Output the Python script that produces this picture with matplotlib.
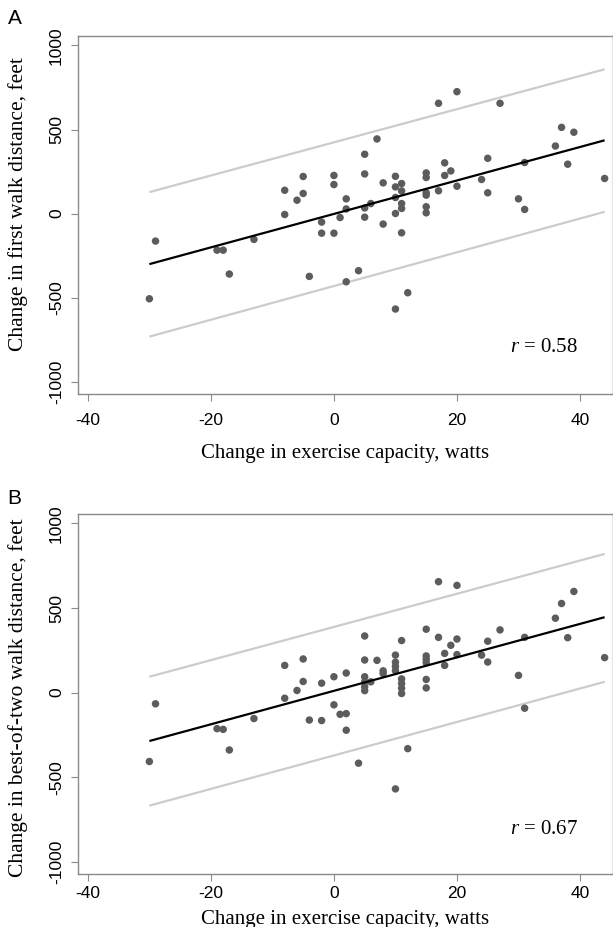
import matplotlib
matplotlib.use("Agg")
import matplotlib.pyplot as plt

plt.rcParams['axes.unicode_minus'] = False
plt.rcParams['mathtext.fontset'] = 'custom'
plt.rcParams['mathtext.it'] = 'Liberation Serif:italic'
plt.rcParams['mathtext.rm'] = 'Liberation Serif'

# ---------------- data ----------------
xA = [-30, -29, -19, -18, -17, -13,
      -8, -8, -6, -5, -5, -4, -2, -2,
      0, 0, 0, 1, 2, 2, 2,
      4,
      5, 5, 5, 5,
      6, 7, 8, 8,
      10, 10, 10, 10, 10,
      11, 11, 11, 11, 11,
      12,
      15, 15, 15, 15, 15, 15,
      17, 17,
      18, 18,
      19,
      20, 20,
      24, 25, 25, 27,
      30, 31, 31,
      36, 37, 38, 39, 44]
yA = [-506, -163, -217, -217, -359, -153,
      139, -5, 80, 221, 120, -373, -50, -116,
      227, 173, -116, -23, 88, 28, -405,
      -339,
      353, 236, 34, -21,
      60, 444, 183, -62,
      222, 159, 96, 1, -567,
      179, 135, 60, 31, -114,
      -470,
      242, 215, 124, 110, 41, 5,
      656, 136,
      302, 227,
      254,
      725, 163,
      203, 329, 124, 656,
      88, 304, 25,
      402, 513, 294, 484, 209]

xB = [-30, -29, -19, -18, -17, -13,
      -8, -8, -6, -5, -5, -4, -2, -2,
      0, 0, 1, 2, 2, 2,
      4,
      5, 5, 5, 5, 5, 5,
      6, 7, 8, 8,
      10, 10, 10, 10, 10,
      11, 11, 11, 11, 11,
      12,
      15, 15, 15, 15, 15, 15,
      17, 17,
      18, 18,
      19,
      20, 20, 20,
      24, 25, 25, 27,
      30, 31, 31,
      36, 37, 38, 39, 44]
yB = [-407, -66, -213, -217, -339, -153,
      161, -33, 13, 199, 66, -162, 56, -165,
      94, -72, -128, -124, 116, -222,
      -417,
      335, 193, 94, 64, 35, 12,
      64, 191, 129, 113,
      222, 180, 155, 130, -569,
      308, 81, 54, 26, -5,
      -331,
      375, 217, 197, 177, 78, 28,
      656, 327,
      232, 161,
      280,
      634, 317, 225,
      222, 304, 181, 371,
      102, 327, -92,
      440, 527, 325, 598, 207]

# fitted line and prediction band endpoints
fit_x = [-30, 44]
fitA = [-300, 436]
upA = [128, 858]
loA = [-731, 11]
fitB = [-286, 446]
upB = [94, 820]
loB = [-668, 64]

r_A = "0.58"
r_B = "0.67"

xticks = [-40, -20, 0, 20, 40]
yticks = [-1000, -500, 0, 500, 1000]

ylabelA = "Change in first walk distance, feet"
ylabelB = "Change in best-of-two walk distance, feet"
xlabel = "Change in exercise capacity, watts"

# ---------------- figure ----------------
W, H = 613, 927
fig = plt.figure(figsize=(W / 100, H / 100), dpi=100)

def px_axes(left, top, right, bottom):
    return fig.add_axes([left / W, 1 - bottom / H, (right - left) / W, (bottom - top) / H])

axA = px_axes(78, 36, 612, 394)
axB = px_axes(78, 514, 612, 874)

serif = 'Liberation Serif'
sans = 'Liberation Sans'
dot_col = '#5c5c5c'
band_col = '#cccccc'
spine_col = '#8a8a8a'

panels = [
    (axA, xA, yA, fitA, upA, loA, r_A, ylabelA, -798, 9, 11, 0.53),
    (axB, xB, yB, fitB, upB, loB, r_B, ylabelB, -810, 4, 6, 0.49),
]

for ax, xs, ys, fit, up, lo, rv, ylab, ry, xpad, xlpad, ylab_y in panels:
    ax.plot(fit_x, up, color=band_col, lw=1.6, zorder=1, solid_capstyle='butt')
    ax.plot(fit_x, lo, color=band_col, lw=1.6, zorder=1, solid_capstyle='butt')
    ax.scatter(xs, ys, s=29, color=dot_col, edgecolors='none', zorder=2)
    ax.plot(fit_x, fit, color='black', lw=1.6, zorder=3, solid_capstyle='butt')

    ax.set_xlim(-41.6, 45.2)
    ax.set_ylim(-1072, 1056)
    ax.set_xticks(xticks)
    ax.set_yticks(yticks)
    ax.set_xticklabels([str(t) for t in xticks], fontfamily=sans, fontsize=12.5)
    ax.set_yticklabels([str(t) for t in yticks], fontfamily=sans, fontsize=12.5,
                       rotation=90, va='center')
    ax.tick_params(axis='both', direction='out', length=5, width=0.8,
                   color=spine_col)
    ax.tick_params(axis='x', pad=xpad)
    ax.tick_params(axis='y', pad=5)
    for sp in ax.spines.values():
        sp.set_color(spine_col)
        sp.set_linewidth(1.0)
    ax.spines['right'].set_color('#e6e6e6')

    ax.set_xlabel(xlabel, fontfamily=serif, fontsize=15, labelpad=xlpad)
    ax.set_ylabel(ylab, fontfamily=serif, fontsize=15.5)
    ax.yaxis.set_label_coords(-0.093, ylab_y)

    ax.text(34.1, ry, r"$r$ = " + rv, fontfamily=serif, fontsize=15,
            ha='center', va='center')

fig.text(15 / W, 1 - 18 / H, "A", fontfamily=sans, fontsize=15, ha='center', va='center')
fig.text(14 / W, 1 - 499 / H, "B", fontfamily=sans, fontsize=15, ha='center', va='center')

fig.savefig("out.png", dpi=100, facecolor='white')
